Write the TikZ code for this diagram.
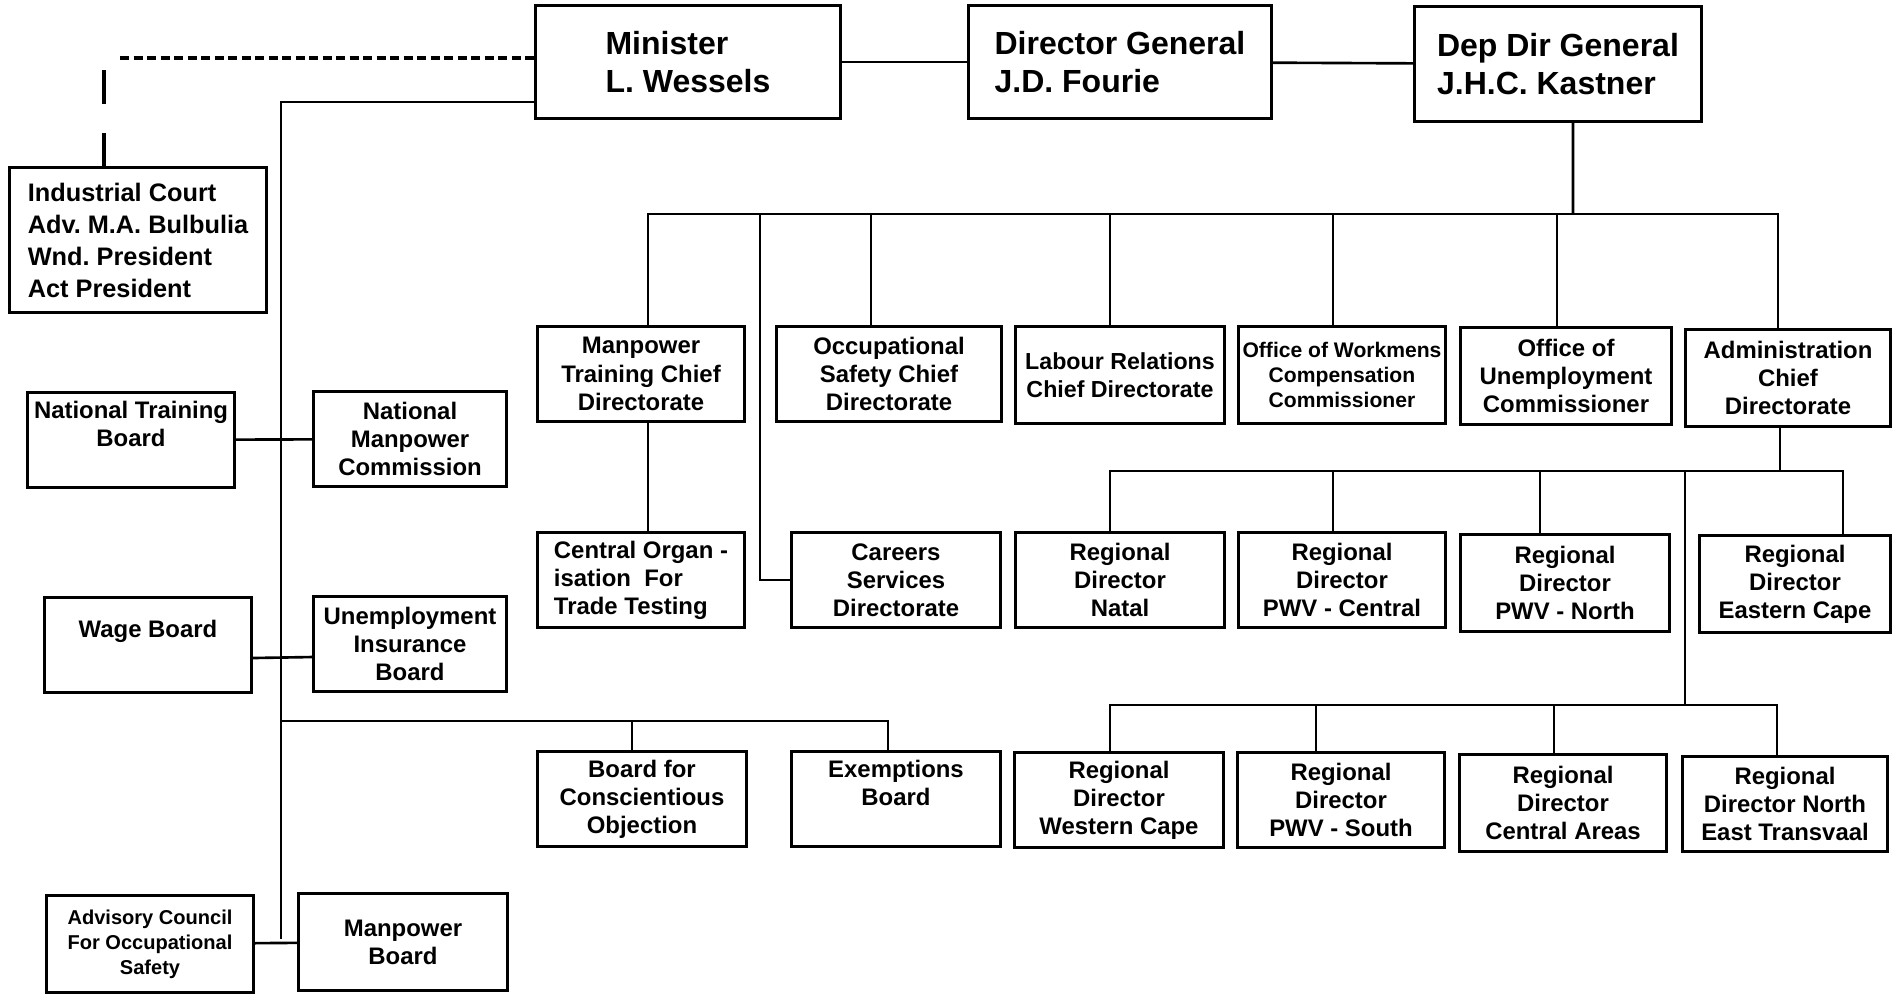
\documentclass[tikz,border=0pt]{standalone}
\usepackage{fontspec}
\setmainfont{Liberation Sans}
\frenchspacing

\tikzset{
  box/.style={draw,line width=0.85pt,inner sep=1pt,align=center,
    minimum width=2.07cm,minimum height=0.95cm,
    font=\bfseries\fontsize{6.8}{8}\selectfont},
  head/.style={box,align=left,font=\bfseries\fontsize{9.1}{10.7}\selectfont},
  courtbox/.style={box,align=left,inner xsep=0pt,font=\bfseries\fontsize{7.2}{9.1}\selectfont},
  smallbox/.style={box,font=\bfseries\fontsize{6}{7.1}\selectfont},
  tinybox/.style={box,font=\bfseries\fontsize{5.7}{7.1}\selectfont},
  topline/.style={text depth=0.32cm},
  link/.style={line width=0.75pt},
  dashlink/.style={line width=1.2pt,dash pattern=on 0.09cm off 0.045cm},
  courtlink/.style={line width=1pt,dash pattern=on 0.34cm off 0.29cm}
}

\begin{document}
\begin{tikzpicture}[x=0.01cm,y=-0.01cm]
	\useasboundingbox (0,0) rectangle (1893,993);
	% top row
	\node[head,minimum width=3.04cm,minimum height=1.12cm] (minister) at (688,62) {Minister\\L. Wessels};
	\node[head,minimum width=3.03cm,minimum height=1.13cm] (dg) at (1120,62) {Director General\\J.D. Fourie};
	\node[head,minimum width=2.86cm,minimum height=1.15cm] (ddg) at (1558,64) {Dep Dir General\\J.H.C. Kastner};
	% left column
	\node[courtbox,minimum width=2.56cm,minimum height=1.45cm] (court) at (138,240) {Industrial Court\\Adv. M.A. Bulbulia\\Wnd. President\\Act President};
	\node[box,topline] (ntb) at (131,440) {National Training\\Board};
	\node[box,minimum width=1.92cm] (nmc) at (410,439) {National\\Manpower\\Commission};
	\node[box,topline] (wage) at (148,645) {Wage Board};
	\node[box,minimum width=1.92cm,minimum height=0.94cm] (uib) at (410,644) {Unemployment\\Insurance\\Board};
	\node[tinybox,minimum height=0.96cm] (acos) at (150,944) {Advisory Council\\For Occupational\\Safety};
	\node[box,minimum width=2.08cm,minimum height=0.97cm] (mpb) at (403,942) {Manpower\\Board};
	\node[box,minimum width=2.08cm] (bco) at (642,799) {Board for\\Conscientious\\Objection};
	\node[box,topline,minimum width=2.09cm] (exb) at (896,799) {Exemptions\\Board};
	% chief directorates
	\node[box] (mtcd) at (641,374) {Manpower\\Training Chief\\Directorate};
	\node[box,minimum width=2.24cm] (oscd) at (889,374) {Occupational\\Safety Chief\\Directorate};
	\node[box,minimum width=2.09cm,minimum height=0.96cm,font=\bfseries\fontsize{6.6}{8}\selectfont] (lrcd) at (1120,375) {Labour Relations\\Chief Directorate};
	\node[smallbox,minimum height=0.96cm] (owcc) at (1342,375) {Office of Workmens\\Compensation\\Commissioner};
	\node[box,minimum width=2.1cm,minimum height=0.96cm] (ouc) at (1566,376) {Office of\\Unemployment\\Commissioner};
	\node[box,minimum width=2.05cm,minimum height=0.96cm] (acd) at (1788,378) {Administration\\Chief\\Directorate};
	% directorates and regions
	\node[box,align=left] (coftt) at (641,580) {Central Organ -\\isation\ \ For\\Trade Testing};
	\node[box,minimum width=2.09cm,minimum height=0.94cm] (csd) at (896,580) {Careers\\Services\\Directorate};
	\node[box,minimum width=2.08cm] (rdnatal) at (1120,580) {Regional\\Director\\Natal};
	\node[box,minimum width=2.06cm] (rdpwvc) at (1342,580) {Regional\\Director\\PWV - Central};
	\node[box,minimum width=2.09cm,minimum height=0.96cm] (rdpwvn) at (1565,583) {Regional\\Director\\PWV - North};
	\node[box,minimum width=1.9cm,minimum height=0.96cm] (rdecape) at (1795,584) {Regional\\Director\\Eastern Cape};
	\node[box,minimum width=2.08cm] (rdwcape) at (1119,800) {Regional\\Director\\Western Cape};
	\node[box,minimum width=2.06cm] (rdpwvs) at (1341,800) {Regional\\Director\\PWV - South};
	\node[box,minimum height=0.96cm] (rdcentral) at (1563,803) {Regional\\Director\\Central Areas};
	\node[box,minimum width=2.04cm] (rdnet) at (1785,804) {Regional\\Director North\\East Transvaal};
	% forks
	\coordinate (bus1) at (1573,214);
	\coordinate (csfork) at (760,214);
	\coordinate (rbus) at (1685,471);
	\coordinate (rbus2) at (1685,705);
	\coordinate (spine) at (281,102);
	\coordinate (spineend) at (281,939);
	\coordinate (bbus) at (281,721);
	\coordinate (dashend) at (120,58);
	\coordinate (courtdash) at (104,70);
	% lines
	\draw[link] (minister) -- (dg);
	\draw[link] (dg) -- (ddg);
	\draw[link] ([xshift=0.15cm]ddg.south) -- (bus1);
	\foreach \n/\s in {mtcd/7,oscd/-18,lrcd/-10,owcc/-9,ouc/-9,acd/-10}
		\draw[link] ([xshift=\s*0.01cm]\n.north) |- (bus1);
	\draw[link] (csfork) |- (csd.west);
	\draw[link] ([xshift=0.07cm]mtcd.south) -- ([xshift=0.07cm]coftt.north);
	\draw[link] ([xshift=-0.08cm]acd.south) |- (rbus);
	\foreach \n/\s in {rdnatal/-10,rdpwvc/-9,rdpwvn/-25,rdecape/48}
		\draw[link] ([xshift=\s*0.01cm]\n.north) |- (rbus);
	\draw[link] (rbus) -- (rbus2);
	\foreach \n/\s in {rdwcape/-9,rdpwvs/-25,rdcentral/-9,rdnet/-8}
		\draw[link] ([xshift=\s*0.01cm]\n.north) |- (rbus2);
	\draw[link] (spine -| minister.west) -- (spine) -- (spineend);
	\draw[link] (ntb) -- (nmc);
	\draw[link] ([yshift=-0.13cm]wage.east) -- ([yshift=-0.13cm]uib.west);
	\draw[link] (acos) -- (mpb);
	\foreach \n/\s in {bco/-10,exb/-8}
		\draw[link] ([xshift=\s*0.01cm]\n.north) |- (bbus);
	\draw[dashlink] (dashend) -- (dashend -| minister.west);
	\draw[courtlink] (courtdash) -- (courtdash |- court.north);
\end{tikzpicture}
\end{document}
